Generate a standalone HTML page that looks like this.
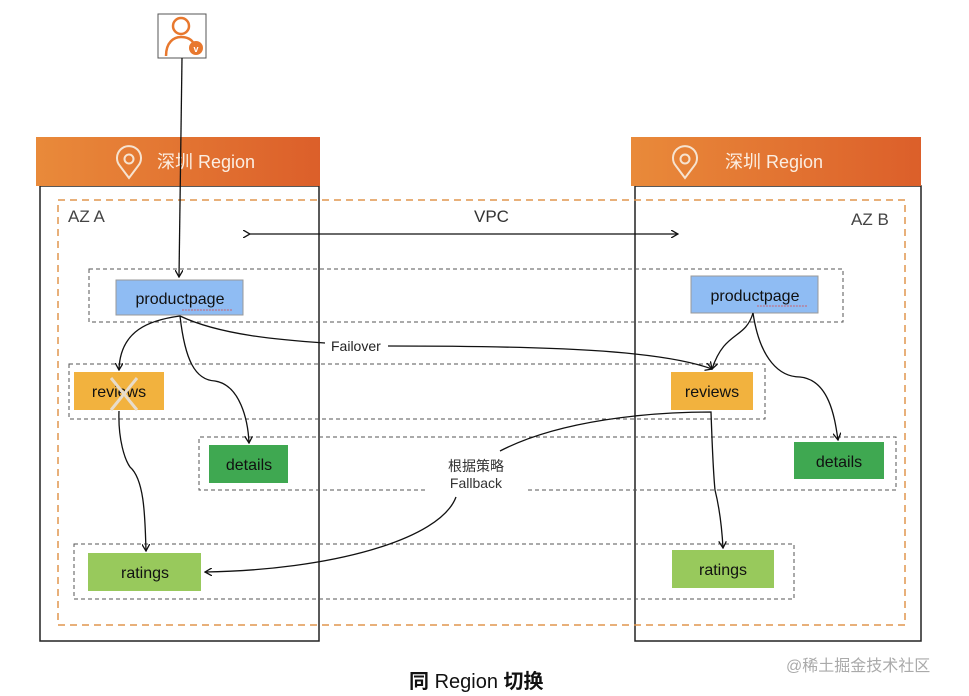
<!DOCTYPE html>
<html><head><meta charset="utf-8"><style>
body{margin:0;background:#fff;width:969px;height:696px;overflow:hidden}
svg{display:block}
text{font-family:"Liberation Sans","Noto Sans CJK SC",sans-serif}
</style></head><body>
<svg width="969" height="696" viewBox="0 0 969 696" xmlns="http://www.w3.org/2000/svg">
<defs>
<linearGradient id="g" x1="0" x2="1" y1="0" y2="0"><stop offset="0" stop-color="#e98a3a"/><stop offset="1" stop-color="#dc5f2a"/></linearGradient>
<marker id="a" markerWidth="8" markerHeight="8" refX="7" refY="4" orient="auto" markerUnits="userSpaceOnUse"><path d="M0,0 L7,4 L0,8" fill="none" stroke="#111" stroke-width="1.3"/></marker>
</defs>
<!-- region boxes -->
<rect x="40" y="186" width="279" height="455" fill="none" stroke="#222" stroke-width="1.5"/>
<rect x="635" y="186" width="286" height="455" fill="none" stroke="#222" stroke-width="1.5"/>
<rect x="36" y="137" width="284" height="49" fill="url(#g)"/>
<rect x="631" y="137" width="290" height="49" fill="url(#g)"/>
<g fill="none" stroke="#f6e3d0" stroke-width="2">
<path d="M129,178 L120,166 A12,12 0 1 1 138,166 Z"/><circle cx="129" cy="159" r="4.5"/>
<path d="M685,178 L676,166 A12,12 0 1 1 694,166 Z"/><circle cx="685" cy="159" r="4.5"/>
</g>
<text x="157" y="168" font-size="18" fill="#fbeee2">深圳 Region</text>
<text x="725" y="168" font-size="18" fill="#fbeee2">深圳 Region</text>
<!-- AZ dashed -->
<rect x="58" y="200" width="847" height="425" fill="none" stroke="#e1964e" stroke-width="1.5" stroke-dasharray="7,5"/>
<text x="68" y="222" font-size="17" fill="#444">AZ A</text>
<text x="851" y="225" font-size="17" fill="#444">AZ B</text>
<text x="474" y="222" font-size="17" fill="#333">VPC</text>
<line x1="250" y1="234" x2="678" y2="234" stroke="#111" stroke-width="1.3" marker-end="url(#a)" marker-start="url(#a)"/>
<!-- rows -->
<g fill="none" stroke="#555" stroke-width="1" stroke-dasharray="4,3">
<rect x="89" y="269" width="754" height="53"/>
<rect x="69" y="364" width="696" height="55"/>
<path d="M425,490 L199,490 L199,437 L896,437 L896,490 L525,490"/>
<rect x="74" y="544" width="720" height="55"/>
</g>
<!-- user -->
<rect x="158" y="14" width="48" height="44" fill="#fff" stroke="#555" stroke-width="1"/>
<circle cx="181" cy="26" r="8" fill="none" stroke="#e8782e" stroke-width="2.5"/>
<path d="M166,56 C166,42 174,37 181,37 C188,37 192,40 194,44" fill="none" stroke="#e8782e" stroke-width="2.5"/>
<circle cx="196" cy="48" r="7" fill="#e8782e"/>
<text x="196" y="52" font-size="9" fill="#fff" text-anchor="middle" font-weight="bold">v</text>
<line x1="182" y1="58" x2="179" y2="277" stroke="#111" stroke-width="1.3" marker-end="url(#a)"/>
<!-- nodes -->
<g font-size="16" text-anchor="middle" fill="#111">
<rect x="116" y="280" width="127" height="35" fill="#8fbcf3" stroke="#999"/><text x="180" y="304">productpage</text>
<rect x="691" y="276" width="127" height="37" fill="#8fbcf3" stroke="#999"/><text x="755" y="301">productpage</text>
<rect x="74" y="372" width="90" height="38" fill="#f2b23e"/><text x="119" y="397">reviews</text>
<rect x="671" y="372" width="82" height="38" fill="#f2b23e"/><text x="712" y="397">reviews</text>
<rect x="209" y="445" width="79" height="38" fill="#3fa851"/><text x="249" y="470">details</text>
<rect x="794" y="442" width="90" height="37" fill="#3fa851"/><text x="839" y="467">details</text>
<rect x="88" y="553" width="113" height="38" fill="#98c95c"/><text x="145" y="578">ratings</text>
<rect x="672" y="550" width="102" height="38" fill="#98c95c"/><text x="723" y="575">ratings</text>
</g>
<g stroke="#e8dccb" stroke-width="3"><line x1="111" y1="378" x2="137" y2="410"/><line x1="137" y1="378" x2="111" y2="410"/></g>
<path d="M182,310 q20,0 50,0" stroke="#d44" stroke-width="0.8" fill="none" stroke-dasharray="2,1"/>
<path d="M757,306 q20,0 50,0" stroke="#d44" stroke-width="0.8" fill="none" stroke-dasharray="2,1"/>
<!-- connectors -->
<g fill="none" stroke="#111" stroke-width="1.3">
<path d="M180,316 C150,320 120,330 119,370" marker-end="url(#a)"/>
<path d="M180,316 C185,360 195,380 215,381 C240,385 248,420 249,443" marker-end="url(#a)"/>
<path d="M180,316 C220,335 280,340 325,343"/>
<path d="M388,346 C550,346 660,350 712,369" marker-end="url(#a)"/>
<path d="M753,313 C745,340 725,330 712,369" marker-end="url(#a)"/>
<path d="M753,313 C760,360 780,377 800,377 C830,380 835,420 838,440" marker-end="url(#a)"/>
<path d="M119,411 C118,440 125,460 130,467 C145,480 145,520 146,551" marker-end="url(#a)"/>
<path d="M500,451 C560,420 650,412 711,412 C712,440 713,470 715,490 C720,510 722,530 723,548" marker-end="url(#a)"/>
<path d="M456,497 C440,540 330,570 205,572" marker-end="url(#a)"/>
</g>
<rect x="430" y="455" width="92" height="40" fill="#fff"/>
<text x="331" y="351" font-size="14" fill="#222">Failover</text>
<text x="476" y="471" font-size="14" fill="#333" text-anchor="middle">根据策略</text>
<text x="476" y="488" font-size="14" fill="#333" text-anchor="middle">Fallback</text>
<text x="409" y="688" font-size="20" font-weight="bold" fill="#111">同 <tspan font-weight="normal">Region</tspan> 切换</text>
<text x="786" y="671" font-size="16" fill="#aaa">@稀土掘金技术社区</text>
</svg>
</body></html>
